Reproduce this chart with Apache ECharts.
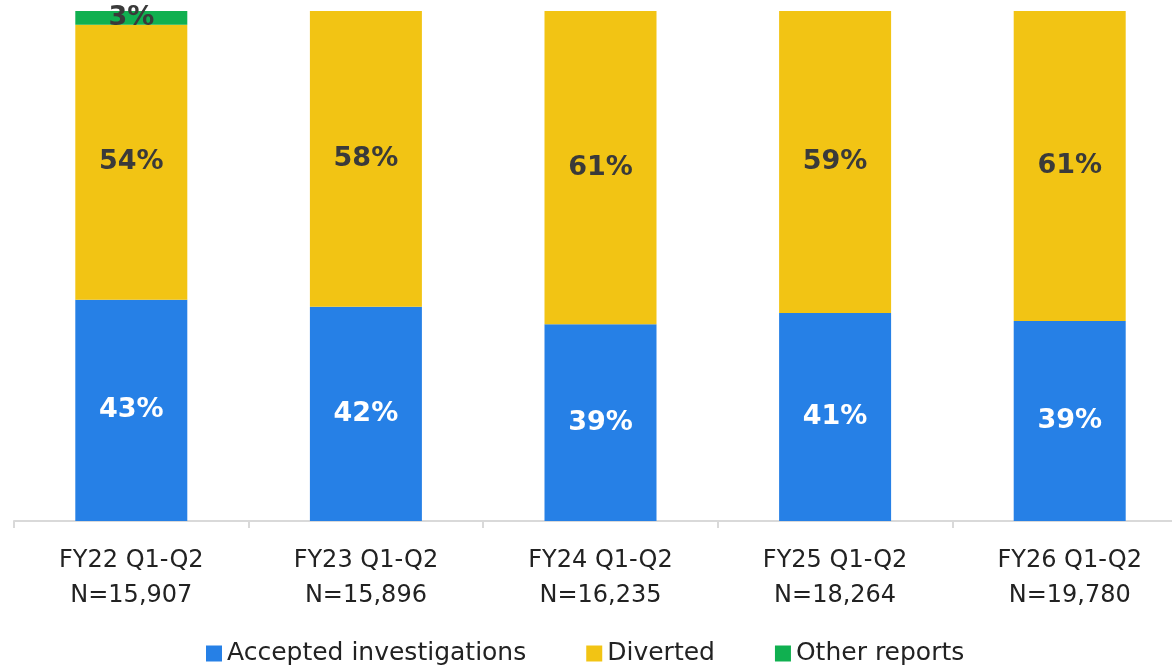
<!DOCTYPE html>
<html>
<head>
<meta charset="utf-8">
<script src="https://cdn.jsdelivr.net/npm/echarts@6/dist/echarts.min.js"></script>
<style>html,body{margin:0;padding:0;background:#fff;overflow:hidden}#c{width:1172px;height:666px}</style>
</head>
<body>
<div id="c"></div>
<script>
const categories = ['FY22 Q1-Q2\nN=15,907','FY23 Q1-Q2\nN=15,896','FY24 Q1-Q2\nN=16,235','FY25 Q1-Q2\nN=18,264','FY26 Q1-Q2\nN=19,780'];
const accepted = [43.4, 42.0, 38.6, 40.8, 39.2];
const diverted = [53.9, 58.0, 61.4, 59.2, 60.8];
const other = [2.7, 0, 0, 0, 0];
const FONT = 'DejaVu Sans';
const chart = echarts.init(document.getElementById('c'));
const lbl = (color) => ({
  show: true, position: 'inside', color: color, fontFamily: FONT, fontWeight: 'bold', fontSize: 27,
  formatter: p => p.value > 0 ? Math.round(p.value) + '%' : ''
});
chart.setOption({
  animation: false,
  textStyle: {fontFamily: FONT},
  grid: {left: 14, width: 1173, top: 11, bottom: 145, containLabel: false, outerBoundsMode: 'none'},
  legend: {
    top: 636, left: 201, itemWidth: 16, itemHeight: 16, itemGap: 60, icon: 'rect',
    textStyle: {fontFamily: FONT, fontSize: 25, color: '#222'},
    data: ['Accepted investigations','Diverted','Other reports']
  },
  xAxis: {
    type: 'category', data: categories,
    axisLine: {lineStyle: {color: '#d9d9d9', width: 2}},
    axisTick: {show: true, length: 7, lineStyle: {color: '#d9d9d9', width: 2}},
    axisLabel: {fontFamily: FONT, fontSize: 24, color: '#222', lineHeight: 35, margin: 22}
  },
  yAxis: {type: 'value', min: 0, max: 100, show: false},
  series: [
    {name: 'Accepted investigations', type: 'bar', stack: 's', data: accepted, barWidth: 112, itemStyle: {color: '#2680E6'}, label: lbl('#fff')},
    {name: 'Diverted', type: 'bar', stack: 's', data: diverted, itemStyle: {color: '#F2C414'}, label: lbl('#3a3a3a')},
    {name: 'Other reports', type: 'bar', stack: 's', data: other, itemStyle: {color: '#10B050'}, label: lbl('#3a3a3a')}
  ]
});
</script>
</body>
</html>
